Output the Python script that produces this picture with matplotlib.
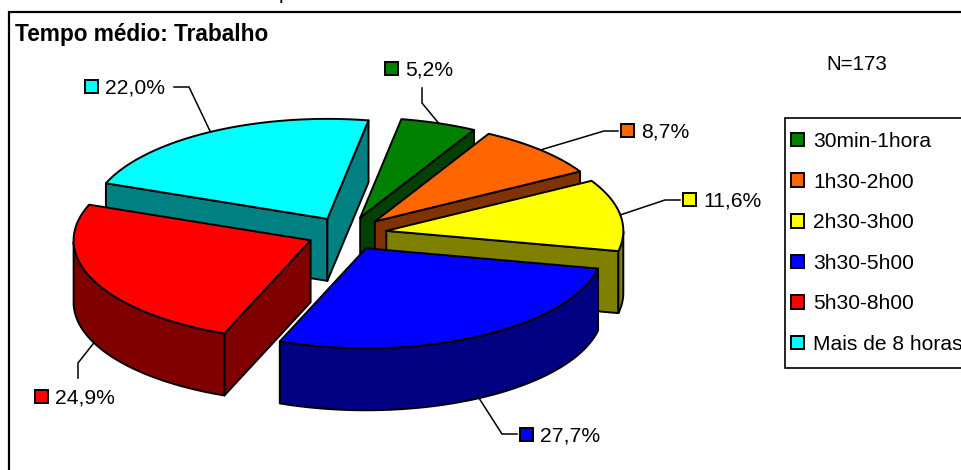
import numpy as np
import matplotlib
matplotlib.use("Agg")
import matplotlib.pyplot as plt
from matplotlib.patches import Polygon, Rectangle, Patch

plt.rcParams['font.family'] = ['Liberation Sans', 'DejaVu Sans']

categories = ['30min-1hora', '1h30-2h00', '2h30-3h00', '3h30-5h00', '5h30-8h00', 'Mais de 8 horas']
values = [5.2, 8.7, 11.6, 27.7, 24.9, 22.0]
value_labels = ['5,2%', '8,7%', '11,6%', '27,7%', '24,9%', '22,0%']
top_colors = ['#008000', '#FF6600', '#FFFF00', '#0000FF', '#FF0000', '#00FFFF']
side_colors = ['#004000', '#803300', '#808000', '#000080', '#800000', '#008080']

# layout (pixels of the 962x470 canvas)
CX, CY, RX, RY, DEPTH, EXPLODE, START = 347.0, 233.5, 237.0, 100.0, 62.0, 0.168, 10.0
# key-square left/top, then leader-line start and elbow, per slice
key_xy = [(385, 62), (621, 124), (683, 193), (520, 428), (35, 390), (85, 80)]
leader_start = [(422, 88), (618, 131), (680, 200), (517, 434), (78, 378), (174, 87)]
leader_elbow = [(422, 103), (604, 131), (665, 200), (502, 434), (78, 363), (189, 87)]
text_gap = 7
KEY = 13

fig = plt.figure(figsize=(9.62, 4.7), dpi=100, facecolor='white')
ax = fig.add_axes([0, 0, 1, 1])
ax.set_xlim(0, 962)
ax.set_ylim(470, 0)
ax.axis('off')

LW = 1.4
spans = np.array(values) / sum(values) * 360.0
starts = START + np.concatenate(([0], np.cumsum(spans)[:-1]))
mids = starts + spans / 2


def pt(c, theta_deg, r=1.0):
    t = np.radians(theta_deg)
    return c[0] + r * RX * np.sin(t), c[1] - r * RY * np.cos(t)


def face(points, color, z):
    ax.add_patch(Polygon(points, closed=True, facecolor=color, edgecolor='black',
                         linewidth=LW, joinstyle='round', zorder=z))


def cross(a, b):
    return a[0] * b[1] - a[1] * b[0]


# outer frame, open past the canvas on the right and at the bottom
ax.add_patch(Rectangle((9, 12), 970, 480, facecolor='white', edgecolor='black',
                       linewidth=1.6, zorder=0))

order = np.argsort(-np.cos(np.radians(mids)))
z = 1
for i in order:
    a0, span, mid = starts[i], spans[i], mids[i]
    apex = np.array([CX + EXPLODE * RX * np.sin(np.radians(mid)),
                     CY - EXPLODE * RY * np.cos(np.radians(mid))])
    thetas = np.linspace(a0, a0 + span, 100)
    rim = np.array([pt(apex, t) for t in thetas])
    down = np.array([0, DEPTH])
    inner = np.array(pt(apex, mid)) - apex
    # cut walls that face the viewer
    for edge in (rim[0], rim[-1]):
        e = edge - apex
        if cross(e, down) * cross(e, inner) < 0:
            face([apex, edge, edge + down, apex + down], side_colors[i], z)
            z += 1
    # outer wall: only the part of the rim facing the viewer
    front = rim[np.cos(np.radians(thetas)) <= 0]
    if len(front) > 1:
        face(np.vstack([front, (front + down)[::-1]]), side_colors[i], z)
        z += 1
    # top face
    face(np.vstack([[apex], rim]), top_colors[i], z)
    z += 1

    # leader line up to the rim at the slice's middle
    end = np.array(pt(apex, mid))
    if np.cos(np.radians(mid)) < 0:
        end = end + down
    xs, ys = zip(leader_start[i], leader_elbow[i], end)
    ax.plot(xs, ys, color='black', lw=1.1, zorder=50, solid_joinstyle='miter')

    # data label: key + value
    kx, ky = key_xy[i]
    ax.add_patch(Rectangle((kx, ky), KEY, KEY, facecolor=top_colors[i], edgecolor='black',
                           linewidth=LW, zorder=51))
    ax.text(kx + KEY + text_gap, ky + KEY / 2 + 1.5, value_labels[i], fontsize=15.2,
            ha='left', va='center', color='black', zorder=52)

ax.text(15, 34, 'Tempo médio: Trabalho', fontsize=16.3, fontweight='bold', ha='left',
        va='center', color='black', zorder=60)
ax.text(826, 64.5, 'N=173', fontsize=14.8, ha='left', va='center', color='black', zorder=60)
# tail of the cropped heading at the very top of the picture
ax.text(278.5, -1, 'p', fontsize=15, ha='left', va='baseline', color='black', zorder=60)

# legend
ax.add_patch(Rectangle((785, 118), 200, 250, facecolor='white', edgecolor='black',
                       linewidth=1.2, zorder=55))
handles = [Patch(facecolor=c, edgecolor='black', linewidth=LW) for c in top_colors]
leg = ax.legend(handles, categories, loc='upper left', bbox_to_anchor=(791, 132),
                bbox_transform=ax.transData, frameon=False, fontsize=15.1, borderpad=0,
                borderaxespad=0, labelspacing=1.03, handlelength=0.62, handleheight=0.62,
                handletextpad=0.43)
leg.set_zorder(56)

fig.savefig('out.png', dpi=100)
